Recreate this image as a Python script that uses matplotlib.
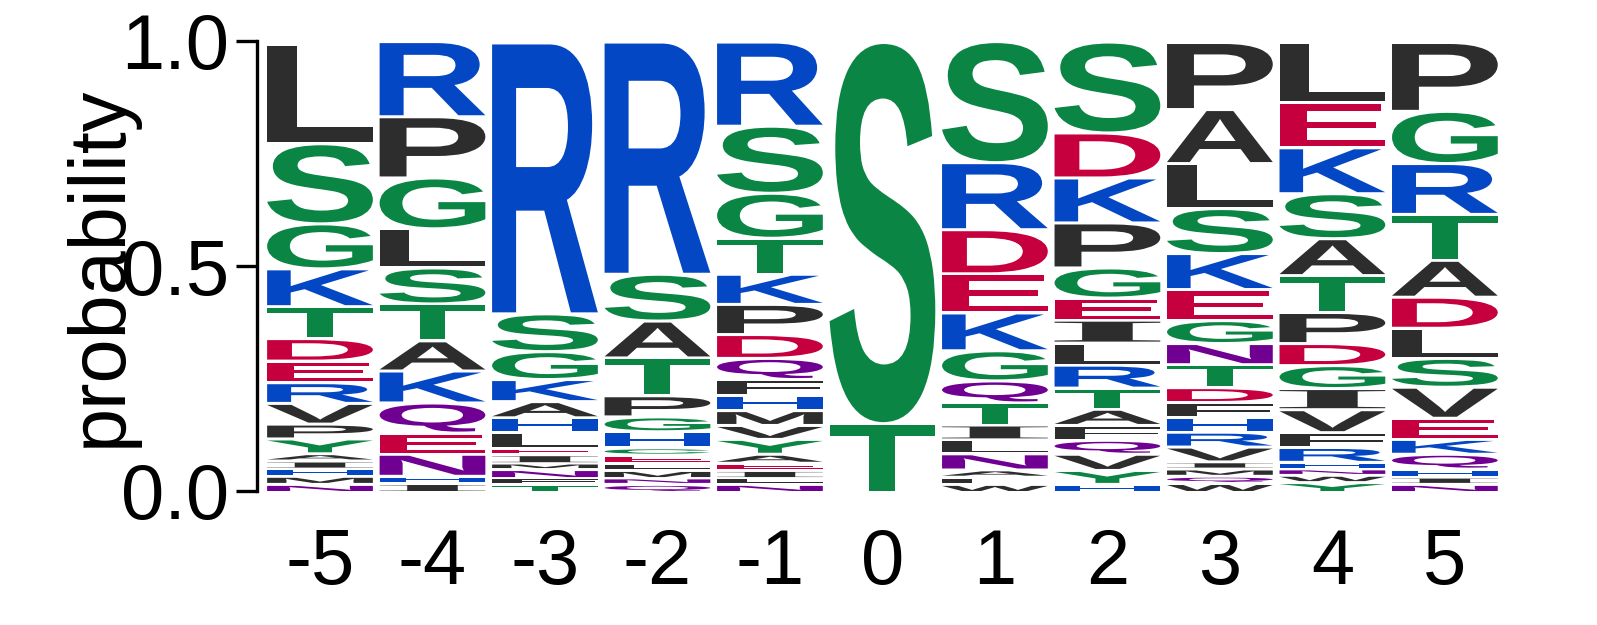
import numpy as np
import matplotlib
matplotlib.use("Agg")
import matplotlib.pyplot as plt
from matplotlib.textpath import TextPath
from matplotlib.font_manager import FontProperties
from matplotlib.patches import PathPatch
import matplotlib.transforms as mtrans

plt.rcParams['font.family'] = ['Liberation Sans', 'DejaVu Sans']

# positions and letters per column, listed from top of the stack to the bottom
positions = [-5, -4, -3, -2, -1, 0, 1, 2, 3, 4, 5]

letters = [
    list("LSGKTDERVPYAIHMN"),
    list("RPGLSTAKQENHI"),
    list("RSGKAHLEIMNFT"),
    list("RSATPGHCELMNQ"),
    list("RSGTKPDQFHMVYAEILN"),
    list("ST"),
    list("SRDEKGQTILNAFW"),
    list("SDKPGEILRTAFQVYH"),
    list("PALSKEGNTDFHRVIMQW"),
    list("LEKSATPDGIVFRHNWY"),
    list("PGRTADLSVEKQHIN"),
]

probs = [
    [.220, .178, .100, .084, .071, .050, .048, .046, .046, .033, .033, .016, .018, .016, .018, .018],
    [.167, .136, .113, .087, .080, .082, .067, .071, .067, .047, .049, .016, .020],
    [.602, .084, .062, .049, .036, .033, .036, .013, .020, .013, .020, .013, .018],
    [.516, .104, .082, .084, .047, .033, .036, .016, .018, .016, .018, .013, .018],
    [.187, .149, .100, .080, .067, .067, .053, .047, .036, .033, .033, .031, .033, .020, .016, .018, .013, .018],
    [.847, .153],
    [.269, .149, .098, .087, .084, .067, .049, .049, .033, .031, .036, .016, .016, .018],
    [.202, .100, .100, .100, .067, .049, .051, .049, .051, .047, .036, .033, .031, .036, .031, .018],
    [.149, .120, .100, .100, .080, .069, .051, .047, .051, .033, .033, .033, .033, .033, .016, .016, .016, .020],
    [.133, .100, .102, .100, .082, .082, .069, .049, .051, .047, .051, .033, .033, .016, .013, .016, .022],
    [.153, .116, .113, .102, .082, .069, .067, .064, .069, .047, .033, .033, .018, .016, .018],
]

tick_labels = ['0.0', '0.5', '1.0']

colors = {}
for c in "GSTYC":
    colors[c] = '#0A8544'
for c in "RKH":
    colors[c] = '#0447C4'
for c in "DE":
    colors[c] = '#C6003E'
for c in "QN":
    colors[c] = '#700092'
for c in "AVLIPWFM":
    colors[c] = '#2D2D2D'

fp = FontProperties(family='Liberation Sans', weight='bold')
fp_serif = FontProperties(family='Liberation Serif', weight='bold')


def draw_letter(ax, ch, xc, y0, w, h, color):
    path = TextPath((0, 0), ch, size=1, prop=fp_serif if ch == 'I' else fp)
    ext = path.get_extents()
    tr = mtrans.Affine2D().translate(-ext.x0, -ext.y0) \
        .scale(w / ext.width, h / ext.height).translate(xc - w / 2, y0)
    ax.add_patch(PathPatch(tr.transform_path(path), fc=color, ec='none', lw=0))


fig = plt.figure(figsize=(15.97, 6.25), dpi=100)
ax = fig.add_axes([257 / 1597, 134 / 625, 1243 / 1597, 450 / 625])

width = 0.94
gap = 0.0067
for pos, lets, ps in zip(positions, letters, probs):
    y = 0.0
    for ch, p in zip(lets[::-1], ps[::-1]):
        h = max(p - gap, p * 0.6)
        draw_letter(ax, ch, pos, y, width, h, colors[ch])
        y += p

ax.set_xlim(-5.56, 5.49)
ax.set_ylim(0, 1)
for s in ['top', 'right', 'bottom']:
    ax.spines[s].set_visible(False)
ax.spines['left'].set_linewidth(2.4)
ax.spines['left'].set_color('black')

ax.set_xticks(positions)
ax.set_xticklabels([str(p) for p in positions])
ax.set_yticks([0, 0.5, 1.0])
ax.set_yticklabels(tick_labels)
ax.tick_params(axis='x', length=0, pad=26, labelsize=56)
ax.tick_params(axis='y', length=15, width=2.4, pad=5, labelsize=56)

ax.set_ylabel('probability', fontsize=57, va='center')
ax.yaxis.set_label_coords(-0.126, 0.5)

fig.savefig('out.png', dpi=100)
